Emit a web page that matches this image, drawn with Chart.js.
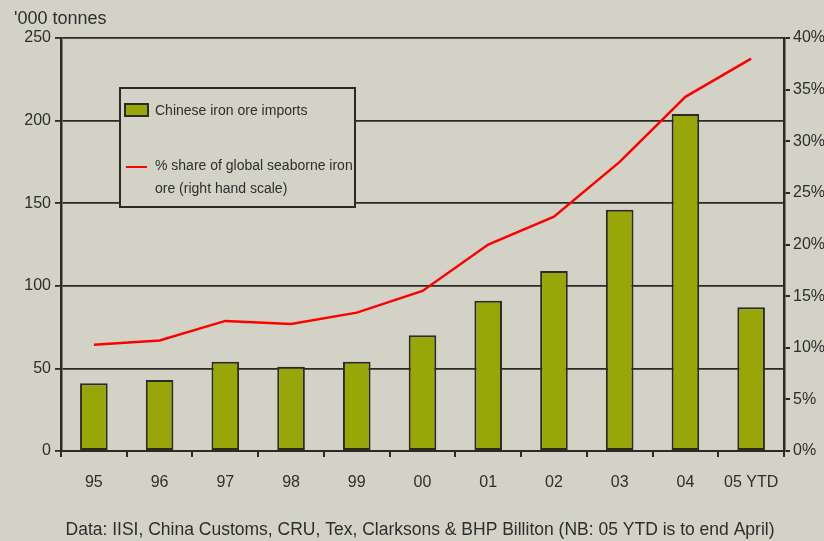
<!DOCTYPE html>
<html><head><meta charset="utf-8">
<script src="https://cdn.jsdelivr.net/npm/chart.js@4/dist/chart.umd.min.js"></script>
<style>html,body{margin:0;padding:0;background:#d3d2c6;}#wrap{width:824px;height:541px;}</style>
</head><body><div id="wrap"><canvas id="c" width="824" height="541"></canvas></div>
<script>
const categories = ['95','96','97','98','99','00','01','02','03','04','05 YTD'];
const imports = [41, 43, 54, 51, 54, 70, 91, 109, 146, 204, 87];
const seaborneShare = [10.3, 10.7, 12.6, 12.3, 13.4, 15.5, 20.0, 22.7, 28.0, 34.3, 38.0];
const leftTicks = [0, 50, 100, 150, 200, 250];
const rightTicks = [0, 5, 10, 15, 20, 25, 30, 35, 40];
const seriesNames = ['Chinese iron ore imports', '% share of global seaborne iron', 'ore (right hand scale)'];
const unitLabel = "'000 tonnes";
const footnote = 'Data: IISI, China Customs, CRU, Tex, Clarksons & BHP Billiton (NB: 05 YTD is to end April)';

const BG = '#d3d2c6', DARK = '#2b2b24', BAR = '#98a707', FONT = '"Liberation Sans", Arial, sans-serif';

const overlay = {
  id: 'overlay',
  afterDraw(chart) {
    const ctx = chart.ctx;
    ctx.save();
    ctx.fillStyle = '#2e2e2e';
    ctx.font = '18px ' + FONT;
    ctx.textBaseline = 'alphabetic';
    ctx.textAlign = 'left';
    ctx.fillText(unitLabel, 14, 24);
    ctx.textAlign = 'center';
    ctx.font = '17.5px ' + FONT;
    ctx.fillText(footnote, 420, 535);
    // legend box
    const x0 = 120, y0 = 88, w = 235, h = 119;
    ctx.fillStyle = BG;
    ctx.fillRect(x0, y0, w, h);
    ctx.strokeStyle = DARK; ctx.lineWidth = 2;
    ctx.strokeRect(x0, y0, w, h);
    ctx.fillStyle = BAR;
    ctx.fillRect(125, 104, 23, 12);
    ctx.strokeRect(125, 104, 23, 12);
    ctx.strokeStyle = '#ff0000'; ctx.lineWidth = 2;
    ctx.beginPath(); ctx.moveTo(126, 167); ctx.lineTo(147, 167); ctx.stroke();
    ctx.fillStyle = '#2e2e2e';
    ctx.font = '14px ' + FONT;
    ctx.textAlign = 'left';
    ctx.textBaseline = 'middle';
    ctx.fillText(seriesNames[0], 155, 111);
    ctx.fillText(seriesNames[1], 155, 166);
    ctx.fillText(seriesNames[2], 155, 189);
    ctx.restore();
  }
};

new Chart(document.getElementById('c'), {
  data: {
    labels: categories,
    datasets: [
      { type: 'line', label: seriesNames[1], data: seaborneShare, yAxisID: 'y1',
        borderColor: '#ff0000', borderWidth: 2.5, pointRadius: 0, tension: 0, order: 0 },
      { type: 'bar', label: seriesNames[0], data: imports, yAxisID: 'y',
        backgroundColor: BAR, borderColor: DARK, borderWidth: 2, borderSkipped: false,
        barPercentage: 0.42, categoryPercentage: 1, order: 1 }
    ]
  },
  options: {
    responsive: false, animation: false,
    layout: { padding: { top: 38, left: 0, right: 0, bottom: 0 } },
    plugins: { legend: { display: false }, tooltip: { enabled: false } },
    scales: {
      x: {
        offset: true,
        afterFit(s) { s.height = 90; },
        grid: { offset: true, drawOnChartArea: false, drawTicks: true, tickLength: 6, color: DARK, lineWidth: 2 },
        border: { color: DARK, width: 2 },
        ticks: { color: '#2e2e2e', font: { family: FONT, size: 16 }, padding: 16, maxRotation: 0 }
      },
      y: {
        position: 'left', min: 0, max: 250,
        afterFit(s) { s.width = 61; },
        afterBuildTicks(s) { s.ticks = leftTicks.map(v => ({ value: v })); },
        grid: { color: DARK, lineWidth: 1.8, tickLength: 6 },
        border: { color: DARK, width: 2.5 },
        ticks: { color: '#2e2e2e', font: { family: FONT, size: 16 }, padding: 4 }
      },
      y1: {
        position: 'right', min: 0, max: 40,
        afterFit(s) { s.width = 40; },
        afterBuildTicks(s) { s.ticks = rightTicks.map(v => ({ value: v })); },
        grid: { drawOnChartArea: false, color: DARK, lineWidth: 2, tickLength: 6 },
        border: { color: DARK, width: 2.5 },
        ticks: { color: '#2e2e2e', font: { family: FONT, size: 16 }, padding: 3, callback: v => v + '%' }
      }
    }
  },
  plugins: [overlay]
});
</script></body></html>
